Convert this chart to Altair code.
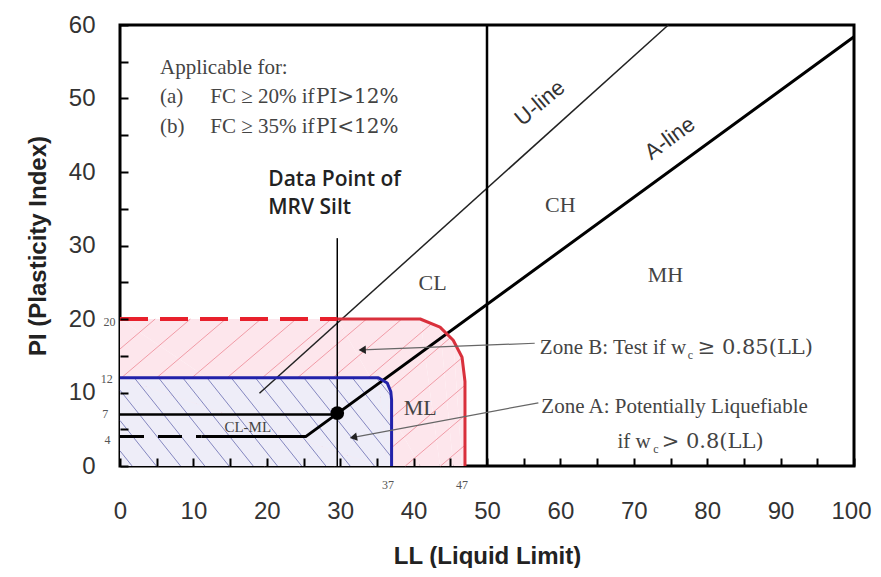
import altair as alt
import pandas as pd
import numpy as np

# ---------------- data ----------------
x_ticks = list(range(0, 101, 5))
y_ticks = list(range(0, 61, 5))

u_ll = [19.0, 74.7]
u_pi = [9.9, 60.0]
a_ll = [11.1, 25.3, 100.0]
a_pi = [4.0, 4.0, 58.4]
dash4_ll = [0.0, 11.1]
dash4_pi = [4.0, 4.0]
line7_ll = [0.0, 29.6]
line7_pi = [7.0, 7.0]
ll50_ll = [50.0, 50.0]
ll50_pi = [0.0, 60.0]

pt_ll = [29.6]
pt_pi = [7.2]
pt_line_ll = [29.6, 29.6]
pt_line_pi = [0.0, 31.0]

# Zone B (red) boundary
zb_dash_ll = [0.0, 29.6]
zb_dash_pi = [20.0, 20.0]
zb_ll = [29.6, 40.9, 43.6, 45.4, 46.6, 47.0, 47.0]
zb_pi = [20.0, 20.0, 18.9, 17.1, 14.8, 11.5, 0.0]
# Zone A (blue) boundary
za_ll = [0.0, 35.2, 36.4, 36.9, 37.0, 37.0]
za_pi = [12.0, 12.0, 11.3, 10.1, 9.0, 0.0]

# arrows (tail -> tip)
arrow_b_ll = [56.5, 33.0]
arrow_b_pi = [16.7, 15.8]
arrow_a_ll = [57.0, 31.8]
arrow_a_pi = [8.6, 3.9]
head_ll = [33.0, 31.8]
head_pi = [15.8, 3.9]
head_angle = [358, 349]

W, H = 734, 441
SERIF = "Liberation Serif"
WIDE_SERIF = "DejaVu Serif"
SANS = "Liberation Sans"

xscale = alt.Scale(domain=[0, 100], nice=False, zero=False)
yscale = alt.Scale(domain=[0, 60], nice=False, zero=False)
label_expr = "datum.value % 10 === 0 ? datum.label : ''"

xaxis = alt.Axis(values=x_ticks, labelExpr=label_expr, offset=-8, tickSize=8,
                 tickWidth=2, tickColor="black", domain=False, grid=False,
                 labelFont=SANS, labelFontSize=24, labelColor="#333",
                 labelPadding=33, labelOverlap=False, labelFlush=False,
                 labelOffset={"condition": {"test": "datum.value === 100", "value": -3},
                              "value": 0},
                 title="LL (Liquid Limit)", titleFont=SANS, titleFontSize=24,
                 titleFontWeight="bold", titleColor="#222", titlePadding=21,
                 zindex=1)
yaxis = alt.Axis(values=y_ticks, labelExpr=label_expr, offset=-8, tickSize=8,
                 tickWidth=2, tickColor="black", domain=False, grid=False,
                 labelFont=SANS, labelFontSize=24, labelColor="#333",
                 labelPadding=25, labelOverlap=False, labelFlush=False,
                 title="PI (Plasticity Index)", titleFont=SANS, titleFontSize=24,
                 titleFontWeight="bold", titleColor="#222", titlePadding=18,
                 zindex=1)

X = alt.X("ll:Q", scale=xscale, axis=xaxis)
Y = alt.Y("pi:Q", scale=yscale, axis=yaxis)


def ldf(lls, pis):
    return pd.DataFrame({"ll": lls, "pi": pis, "i": list(range(len(lls)))})


def line(lls, pis, color, width, dash=None, opacity=1.0):
    kw = dict(color=color, strokeWidth=width, opacity=opacity, strokeJoin="round")
    if dash:
        kw["strokeDash"] = dash
    return alt.Chart(ldf(lls, pis)).mark_line(**kw).encode(
        x=X, y=Y, order=alt.Order("i:Q"))


def area(lls, pis, color):
    return alt.Chart(ldf(lls, pis)).mark_area(color=color, opacity=1.0).encode(
        x=X, y=Y, order=alt.Order("i:Q"))


def hatch(bx, by, slope, step):
    """decorative hatch segments clipped to a zone boundary"""
    wmax = max(bx)
    hmax = max(by)
    ll = np.linspace(0, wmax, 3000)
    top = np.interp(ll, bx[:-1], by[:-1])
    if slope > 0:
        cs = np.arange(-hmax / slope, wmax, step)
    else:
        cs = np.arange(step / 2, wmax + hmax / abs(slope), step)
    rows = []
    for c in cs:
        pi = slope * (ll - c)
        m = (pi >= 0) & (pi <= top)
        idx = np.where(m)[0]
        if len(idx) < 2:
            continue
        rows.append({"ll": ll[idx[0]], "pi": pi[idx[0]],
                     "ll2": ll[idx[-1]], "pi2": pi[idx[-1]]})
    return pd.DataFrame(rows)


def hatch_layer(df, color, opacity):
    return alt.Chart(df).mark_rule(color=color, strokeWidth=1, opacity=opacity).encode(
        x=X, y=Y, x2="ll2:Q", y2="pi2:Q")


def texts(labels, lls, pis, **mark):
    df = pd.DataFrame({"t": labels, "ll": lls, "pi": pis})
    return alt.Chart(df).mark_text(**mark).encode(x=X, y=Y, text="t:N")


zb_fill_ll = [0.0] + zb_ll
zb_fill_pi = [20.0] + zb_pi

TXT = "#444"

layers = [
    area(zb_fill_ll, zb_fill_pi, "#fde6ec"),
    hatch_layer(hatch(zb_fill_ll, zb_fill_pi, 0.85, 4.8), "#ee8e9a", 0.85),
    area(za_ll, za_pi, "#eeedf8"),
    hatch_layer(hatch(za_ll, za_pi, -1.25, 3.3), "#555aa6", 0.7),
    # classification lines
    line(u_ll, u_pi, "#222", 1.5),
    line(a_ll, a_pi, "black", 3),
    line(dash4_ll, dash4_pi, "black", 3, dash=[24, 14]),
    line(line7_ll, line7_pi, "black", 2.5),
    line(ll50_ll, ll50_pi, "black", 2.5),
    line(pt_line_ll, pt_line_pi, "black", 1.5),
    # zone outlines
    line(zb_dash_ll, zb_dash_pi, "#e8202c", 4, dash=[28, 12]),
    line(zb_ll, zb_pi, "#d9303c", 3),
    line(za_ll, za_pi, "#2222aa", 3),
    # arrows
    line(arrow_b_ll, arrow_b_pi, "#666", 1.2),
    line(arrow_a_ll, arrow_a_pi, "#666", 1.2),
    alt.Chart(pd.DataFrame({"ll": head_ll, "pi": head_pi, "a": head_angle}))
    .mark_point(shape="triangle-left", filled=True, color="#222", size=70, opacity=1)
    .encode(x=X, y=Y, angle=alt.Angle("a:Q", scale=None)),
    # data point
    alt.Chart(pd.DataFrame({"ll": pt_ll, "pi": pt_pi}))
    .mark_point(shape="circle", filled=True, color="black", size=190, opacity=1)
    .encode(x=X, y=Y),
    # annotations
    texts(["Applicable for:", "(a)", "(b)"], [5.45, 5.45, 5.45], [54.1, 50.2, 46.1],
          font=SERIF, fontSize=21, color=TXT, align="left", baseline="middle"),
    texts(["FC \u2265 20% if", "FC \u2265 35% if"], [12.3, 12.3], [50.2, 46.1],
          font=SERIF, fontSize=21, color=TXT, align="left", baseline="middle"),
    texts(["PI>12%", "PI<12%"], [26.7, 26.7], [50.2, 46.1],
          font=WIDE_SERIF, fontSize=20, color=TXT, align="left", baseline="middle"),
    texts(["Data Point of", "MRV Silt"], [20.2, 20.2], [38.9, 35.1],
          font="Open Sans", fontSize=21, fontWeight=600, color="#222",
          align="left", baseline="middle"),
    texts(["CH", "CL", "MH", "ML"], [60.0, 42.6, 74.3, 40.9], [35.5, 24.9, 26.0, 7.9],
          font=SERIF, fontSize=22, color=TXT, align="center", baseline="middle"),
    texts(["CL-ML"], [17.4], [5.3], font=SERIF, fontSize=15, color=TXT,
          align="center", baseline="middle"),
    texts(["Zone B: Test if w", "Zone A: Potentially Liquefiable"],
          [57.2, 57.4], [16.1, 8.0],
          font=SERIF, fontSize=21, color=TXT, align="left", baseline="middle"),
    texts(["if w"], [72.3], [3.3],
          font=SERIF, fontSize=21, color=TXT, align="right", baseline="middle"),
    texts(["\u2265 0.85(LL)", "> 0.8(LL)"], [78.7, 73.8], [16.1, 3.3],
          font=WIDE_SERIF, fontSize=21, color=TXT, align="left", baseline="middle"),
    texts(["c", "c"], [77.7, 73.0], [15.1, 2.3], font=SERIF, fontSize=12,
          color=TXT, align="center", baseline="middle"),
    texts(["U-line"], [57.2], [49.4], font=SANS, fontSize=22, color="#333",
          angle=320, align="center", baseline="middle"),
    texts(["A-line"], [74.9], [44.6], font=SANS, fontSize=22, color="#333",
          angle=324, align="center", baseline="middle"),
    # small value labels
    texts(["20", "12", "7", "4"], [-0.6, -1.0, -1.6, -1.3], [19.6, 11.8, 7.1, 3.5],
          font=SERIF, fontSize=12, color="#555", align="right", baseline="middle"),
    texts(["37", "47"], [36.5, 46.6], [-2.6, -2.6],
          font=SERIF, fontSize=12, color="#555", align="center", baseline="middle"),
]

chart = (
    alt.layer(*layers)
    .properties(width=W, height=H,
                padding={"left": 112, "top": 17, "right": 19, "bottom": 102},
                autosize=alt.AutoSizeParams(type="none"),
                background="white")
    .configure_view(stroke="black", strokeWidth=3, fill="white")
)

chart.save("out.html", embed_options={"renderer": "svg", "actions": False})
